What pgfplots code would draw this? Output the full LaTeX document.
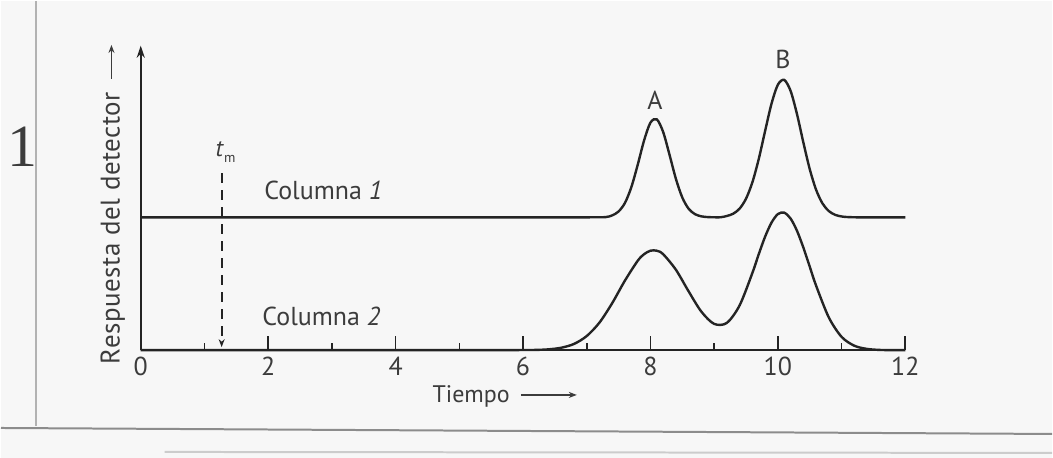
\documentclass[border=0pt]{standalone}
\usepackage{pgfplots}
\pgfplotsset{compat=1.18}
\usetikzlibrary{arrows.meta}
\usepackage{fontspec}
\setmainfont{PT Sans}
\newfontfamily\serifnum{Liberation Serif}
\definecolor{ink}{HTML}{242424}
\definecolor{txt}{HTML}{3C3C3C}
\begin{document}
\begin{tikzpicture}
\fill[black!3] (0,0) rectangle (526.5pt,229pt);
\draw[black!30, line width=0.8pt] (17.5pt,229pt) -- (17.5pt,16pt);
\draw[black!45, line width=1pt] (0pt,15pt) -- (526.5pt,12pt);
\draw[black!20, line width=1pt] (82pt,3pt) -- (526.5pt,2.5pt);
\node[font=\serifnum\fontsize{30}{30}\selectfont, text=txt] at (11pt,156pt) {1};
\begin{axis}[
  at={(70pt,54pt)}, anchor=south west,
  scale only axis, width=383pt, height=152.5pt,
  xmin=0, xmax=12, ymin=0, ymax=30.5,
  axis x line=bottom, axis y line=left,
  x axis line style={-, ink, line width=1pt},
  y axis line style={-{Stealth[length=6pt,width=4pt]}, ink, line width=1pt},
  xtick={0,2,...,12}, minor xtick={1,3,...,11}, ytick=\empty,
  tick align=inside, major tick length=7pt, minor tick length=3.5pt,
  every tick/.style={ink, line width=0.8pt},
  /pgf/number format/assume math mode=true,
  xticklabel style={font=\fontsize{13}{13}\selectfont, text=txt},
  clip=false,
]
% Columna 1
\addplot[ink, line width=1.2pt, smooth] coordinates {
(0,13.3) (3,13.3) (6,13.3) (6.8,13.3) (7.1,13.31) (7.3,13.33) (7.4,13.50) (7.5,13.89) (7.6,14.75) (7.7,16.32) (7.8,18.56) (7.9,21.00) (8.0,22.79) (8.1,23.12) (8.2,21.85) (8.3,19.56) (8.4,17.15) (8.5,15.29) (8.6,14.16) (8.7,13.62) (8.8,13.40) (8.9,13.33) (9.0,13.31) (9.1,13.31) (9.2,13.44) (9.3,13.67) (9.4,14.18) (9.5,15.17) (9.6,16.81) (9.7,19.15) (9.8,21.96) (9.9,24.68) (10.0,26.59) (10.1,27.07) (10.2,25.97) (10.3,23.65) (10.4,20.81) (10.5,18.14) (10.6,16.07) (10.7,14.70) (10.8,13.93) (10.9,13.55) (11.0,13.39) (11.1,13.33) (11.3,13.3) (11.6,13.3) (12,13.3)
};
% Columna 2
\addplot[ink, line width=1.2pt, smooth] coordinates {
(0,0) (3,0) (5.5,0) (6.0,0.01) (6.2,0.02) (6.4,0.08) (6.6,0.24) (6.8,0.62) (7.0,1.41) (7.2,2.76) (7.4,4.71) (7.6,6.97) (7.8,8.95) (7.9,9.61) (8.0,9.96) (8.1,9.96) (8.2,9.61) (8.4,8.05) (8.6,5.88) (8.8,3.85) (9.0,2.63) (9.2,2.73) (9.4,4.49) (9.6,7.73) (9.7,9.61) (9.8,11.37) (9.9,12.77) (10.0,13.63) (10.1,13.77) (10.2,13.18) (10.3,11.96) (10.4,10.28) (10.5,8.37) (10.6,6.46) (10.8,3.27) (11.0,1.33) (11.2,0.44) (11.4,0.12) (11.6,0.02) (11.8,0) (12,0)
};
% t_m
\addplot[ink, line width=0.9pt, dash pattern=on 5pt off 3.5pt, -{Stealth[length=4pt,width=3pt]}] coordinates {(1.27,17.7) (1.27,0.3)};
\node[text=txt, font=\fontsize{12}{12}\selectfont] at (axis cs:1.33,19.8) {\textit{t}\raisebox{-0.5ex}{\scriptsize m}};
\node[text=txt, anchor=west, font=\fontsize{13}{13}\selectfont] at (axis cs:1.83,16.0) {Columna \textit{1}};
\node[text=txt, anchor=west, font=\fontsize{13}{13}\selectfont] at (axis cs:1.80,3.4) {Columna \textit{2}};
\node[text=txt, font=\fontsize{13}{13}\selectfont] at (axis cs:8.07,25.0) {A};
\node[text=txt, font=\fontsize{13}{13}\selectfont] at (axis cs:10.08,29.1) {B};
\node[text=txt, anchor=west, font=\fontsize{12}{12}\selectfont] at (axis cs:4.47,-4.6) {Tiempo\, \tikz[baseline=-0.6ex]\draw[txt, line width=0.8pt, -{Stealth[length=4pt,width=3pt]}] (0,0)--(28pt,0);};
\node[text=txt, anchor=west, rotate=90, font=\fontsize{13.5}{13.5}\selectfont\addfontfeature{LetterSpace=2}] at (axis cs:-0.44,-2.1) {Respuesta del detector\, \tikz[baseline=-0.6ex]\draw[txt, line width=0.8pt, -{Stealth[length=4pt,width=3pt]}] (0,0)--(17pt,0);};
\end{axis}
\end{tikzpicture}
\end{document}
